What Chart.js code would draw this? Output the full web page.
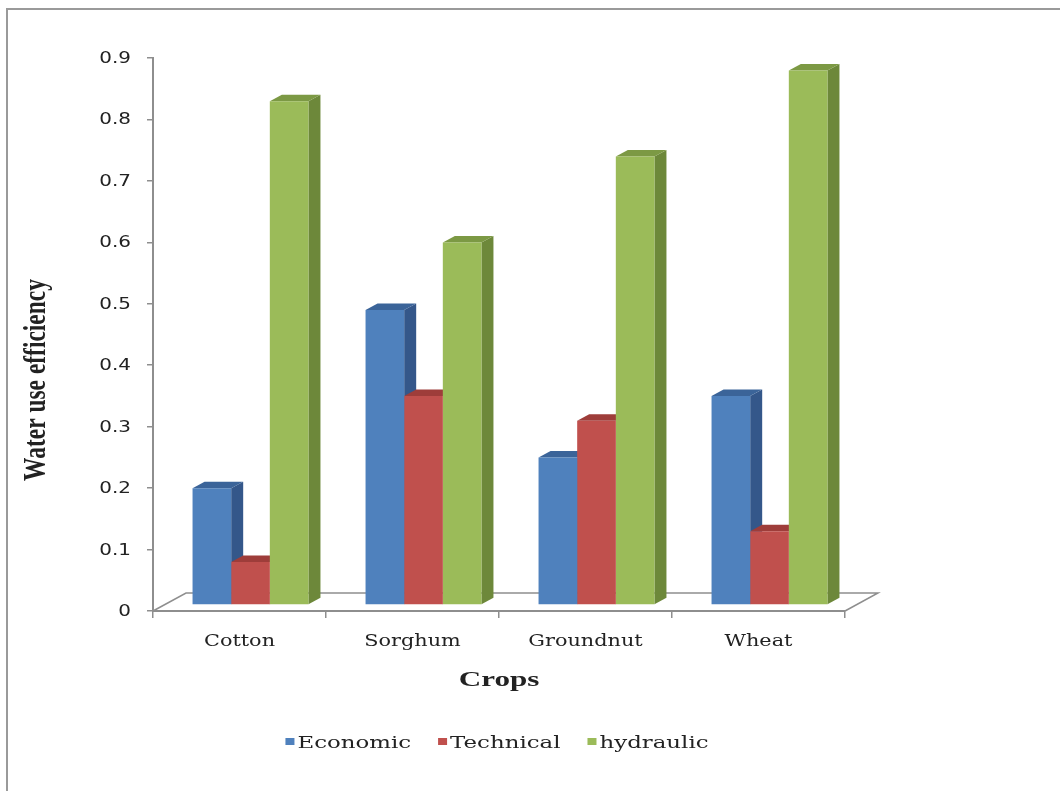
<!DOCTYPE html>
<html>
<head>
<meta charset="utf-8">
<title>Water use efficiency by crop</title>
<script src="https://cdn.jsdelivr.net/npm/chart.js@4.4.0/dist/chart.umd.min.js"></script>
<style>
  html, body { margin: 0; padding: 0; background: #ffffff; }
  #wrap { width: 1060px; height: 791px; }
</style>
</head>
<body>
<div id="wrap"><canvas id="chart" width="1060" height="791"></canvas></div>
<script>
// ---- data ----
const crops = ['Cotton', 'Sorghum', 'Groundnut', 'Wheat'];
const seriesNames = ['Economic', 'Technical', 'hydraulic'];
const economic = [0.19, 0.48, 0.24, 0.34];
const technical = [0.07, 0.34, 0.30, 0.12];
const hydraulic = [0.82, 0.59, 0.73, 0.87];
const yTickLabels = ['0', '0.1', '0.2', '0.3', '0.4', '0.5', '0.6', '0.7', '0.8', '0.9'];
const yAxisTitle = 'Water use efficiency';
const xAxisTitle = 'Crops';

// ---- styling ----
const faces = [
  { front: '#4F81BD', side: '#34578A', top: '#3B6499' },
  { front: '#C0504D', side: '#883533', top: '#9E3D3A' },
  { front: '#9BBB59', side: '#6D883A', top: '#7C9944' }
];
const AXIS = '#8e8e8e';
const TEXT = '#222222';
const FRONT = { dx: 11, dy: -6 };    // bars stand a little behind the front edge of the floor
const DEPTH = { dx: 12, dy: -6.5 };  // bar thickness
const FLOOR = { dx: 33, dy: -18 };   // floor depth

function stretchedText(ctx, text, x, y, font, sx, align, baseline) {
  ctx.save();
  ctx.font = font;
  ctx.fillStyle = TEXT;
  ctx.translate(x, y);
  ctx.scale(sx, 1);
  ctx.textAlign = align;
  ctx.textBaseline = baseline || 'alphabetic';
  ctx.fillText(text, 0, 0);
  ctx.restore();
}

// Floor, side faces and top faces of the 3-D columns; the fronts are the Chart.js bars.
const columns3d = {
  id: 'columns3d',
  beforeDatasetsDraw(chart) {
    const { ctx, chartArea: a } = chart;
    ctx.save();
    ctx.strokeStyle = AXIS;
    ctx.lineWidth = 1.5;
    ctx.beginPath();
    ctx.moveTo(a.left, a.bottom);
    ctx.lineTo(a.left + FLOOR.dx, a.bottom + FLOOR.dy);
    ctx.lineTo(a.right + FLOOR.dx, a.bottom + FLOOR.dy);
    ctx.lineTo(a.right, a.bottom);
    ctx.stroke();
    ctx.restore();

    ctx.save();
    ctx.translate(FRONT.dx, FRONT.dy);
    chart.data.datasets.forEach((ds, di) => {
      const meta = chart.getDatasetMeta(di);
      meta.data.forEach(bar => {
        const { x, y, base, width } = bar.getProps(['x', 'y', 'base', 'width'], true);
        const l = x - width / 2, r = x + width / 2;
        ctx.fillStyle = faces[di].side;
        ctx.beginPath();
        ctx.moveTo(r, y);
        ctx.lineTo(r + DEPTH.dx, y + DEPTH.dy);
        ctx.lineTo(r + DEPTH.dx, base + DEPTH.dy);
        ctx.lineTo(r, base);
        ctx.closePath();
        ctx.fill();
        ctx.fillStyle = faces[di].top;
        ctx.beginPath();
        ctx.moveTo(l, y);
        ctx.lineTo(l + DEPTH.dx, y + DEPTH.dy);
        ctx.lineTo(r + DEPTH.dx, y + DEPTH.dy);
        ctx.lineTo(r, y);
        ctx.closePath();
        ctx.fill();
      });
    });
    // the translation stays active while the bar fronts are drawn
  },
  afterDatasetsDraw(chart) {
    chart.ctx.restore();
  }
};

// Frame, axis labels, titles and legend.
const labelsAndLegend = {
  id: 'labelsAndLegend',
  afterDraw(chart) {
    const { ctx } = chart;
    const xs = chart.scales.x, ys = chart.scales.y;

    ctx.save();
    ctx.strokeStyle = '#9a9a9a';
    ctx.lineWidth = 2;
    ctx.strokeRect(7, 9, 1200, 1000);
    ctx.restore();

    ys.ticks.forEach((t, i) => {
      stretchedText(ctx, yTickLabels[i], 131, ys.getPixelForValue(t.value) + 5,
        '15px "DejaVu Sans"', 1.33, 'right');
    });

    crops.forEach((c, i) => {
      stretchedText(ctx, c, xs.getPixelForTick(i), 646, '16px "DejaVu Serif"', 1.3, 'center');
    });

    stretchedText(ctx, xAxisTitle, 499, 686, 'bold 21px "Liberation Serif"', 1.48, 'center');

    ctx.save();
    ctx.font = 'bold 23px "Liberation Serif"';
    ctx.fillStyle = TEXT;
    ctx.translate(37, 380);
    ctx.rotate(-Math.PI / 2);
    ctx.scale(1.02, 1.4);
    ctx.textAlign = 'center';
    ctx.textBaseline = 'middle';
    ctx.fillText(yAxisTitle, 0, 0);
    ctx.restore();

    // legend row
    const font = '16px "DejaVu Serif"', sx = 1.43, box = 9, gapBox = 3, gapItem = 27;
    ctx.save();
    ctx.font = font;
    const widths = seriesNames.map(n => ctx.measureText(n).width * sx);
    ctx.restore();
    const total = widths.reduce((s, w) => s + w + box + gapBox, 0) + gapItem * (seriesNames.length - 1);
    let lx = 497 - total / 2;
    seriesNames.forEach((n, i) => {
      ctx.fillStyle = faces[i].front;
      ctx.fillRect(lx, 738, box, 7);
      stretchedText(ctx, n, lx + box + gapBox, 748, font, sx, 'left');
      lx += box + gapBox + widths[i] + gapItem;
    });
  }
};

const chart = new Chart(document.getElementById('chart'), {
  type: 'bar',
  data: {
    labels: crops,
    datasets: [
      { label: seriesNames[0], data: economic, backgroundColor: faces[0].front },
      { label: seriesNames[1], data: technical, backgroundColor: faces[1].front },
      { label: seriesNames[2], data: hydraulic, backgroundColor: faces[2].front }
    ]
  },
  options: {
    responsive: false,
    animation: false,
    events: [],
    layout: { padding: { left: 147, right: 215, top: 58, bottom: 173 } },
    datasets: { bar: { categoryPercentage: 0.67, barPercentage: 1.0, borderWidth: 0, clip: false } },
    plugins: { legend: { display: false }, tooltip: { enabled: false }, title: { display: false } },
    scales: {
      x: {
        ticks: { display: false },
        grid: { display: true, drawOnChartArea: false, drawTicks: true, tickLength: 7, color: AXIS, lineWidth: 1.5, offset: true },
        border: { display: true, color: AXIS, width: 2 }
      },
      y: {
        min: 0,
        max: 0.9,
        ticks: { display: false, stepSize: 0.1 },
        grid: { display: true, drawOnChartArea: false, drawTicks: true, tickLength: 6, color: AXIS, lineWidth: 1.5 },
        border: { display: true, color: AXIS, width: 2 }
      }
    }
  },
  plugins: [columns3d, labelsAndLegend]
});
</script>
</body>
</html>
